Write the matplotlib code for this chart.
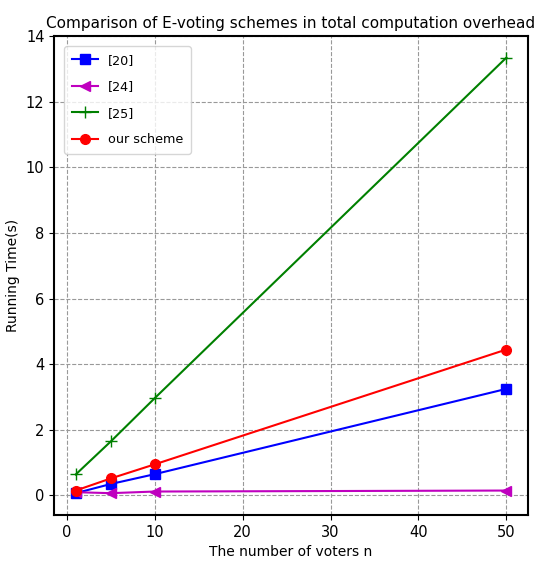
import matplotlib
matplotlib.use("Agg")
import matplotlib.pyplot as plt

n_voters = [1, 5, 10, 50]
ref20 = [0.07, 0.35, 0.65, 3.25]
ref24 = [0.10, 0.07, 0.12, 0.15]
ref25 = [0.64, 1.65, 2.97, 13.35]
ours = [0.15, 0.52, 0.95, 4.45]

fig = plt.figure(figsize=(5.42, 5.69), dpi=100)
ax = fig.add_axes([0.100, 0.095, 0.874, 0.842])

ax.plot(n_voters, ref20, color='blue', marker='s', markersize=7, linewidth=1.5, label='[20]')
ax.plot(n_voters, ref24, color='m', marker='<', markersize=7, linewidth=1.5, label='[24]')
ax.plot(n_voters, ref25, color='green', marker='+', markersize=8, linewidth=1.5, label='[25]')
ax.plot(n_voters, ours, color='red', marker='o', markersize=7, linewidth=1.5, label='our scheme')

ax.grid(True, linestyle='--', color='#999999', linewidth=0.8)
ax.set_xticks([0, 10, 20, 30, 40, 50])
ax.set_yticks([0, 2, 4, 6, 8, 10, 12, 14])
ax.tick_params(labelsize=10.5)
ax.set_xlabel('The number of voters n', fontsize=10)
ax.set_ylabel('Running Time(s)', fontsize=10)
ax.set_title('Comparison of E-voting schemes in total computation overhead', fontsize=11)
for s in ax.spines.values():
    s.set_linewidth(1.5)
ax.legend(loc='upper left', fontsize=9.2, labelspacing=1.05, handlelength=2.0,
          borderpad=0.6, borderaxespad=0.8)

fig.savefig('out.png', dpi=100)
